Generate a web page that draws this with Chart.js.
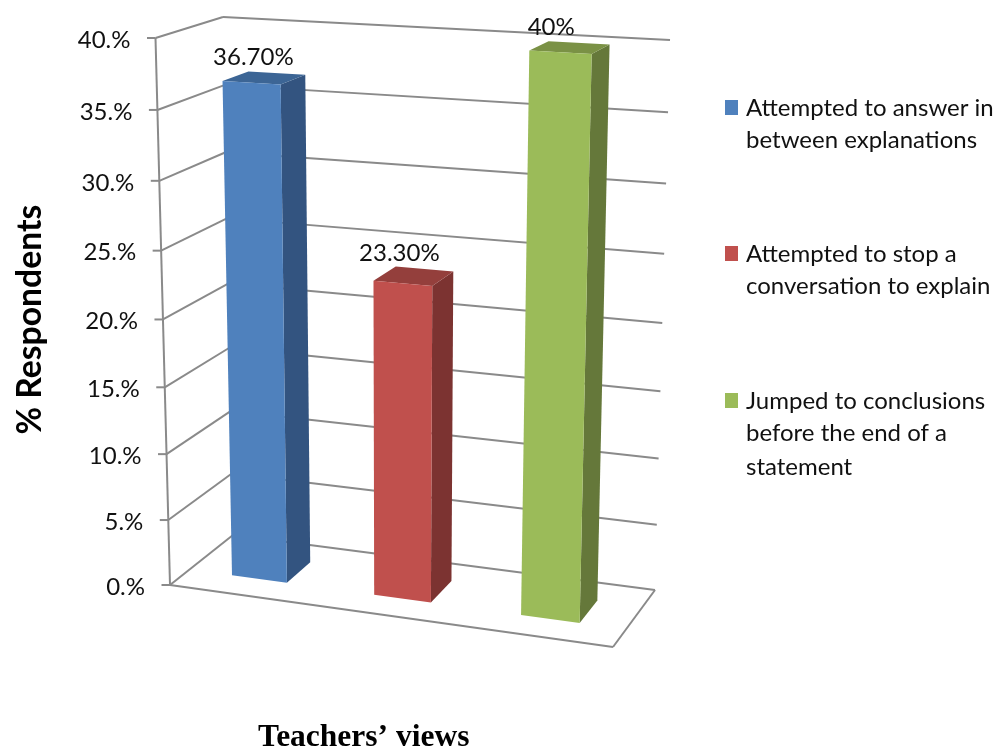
<!DOCTYPE html>
<html>
<head>
<meta charset="utf-8">
<style>html,body{margin:0;padding:0;background:#fff}canvas{display:block}</style>
<script src="https://cdn.jsdelivr.net/npm/chart.js@4/dist/chart.umd.js"></script>
</head>
<body>
<canvas id="c" width="1006" height="749"></canvas>
<script>
const categories = [
  ['Attempted to answer in', 'between explanations'],
  ['Attempted to stop a', 'conversation to explain'],
  ['Jumped to conclusions', 'before the end of a', 'statement']
];
const values = [36.7, 23.3, 40];
const valueLabels = ['36.70%', '23.30%', '40%'];
const barColors = ['#4F81BD', '#C0504D', '#9BBB59'];
const sideColors = ['#335480', '#7C3331', '#65783A'];
const topColors = ['#3C6595', '#943F3C', '#7A9145'];
const yAxisTitle = '% Respondents';
const xAxisTitle = 'Teachers\u2019 views';

// Legend layout: top of each swatch, and the centre line of each text row
const legendSwatchTop = [100, 246, 393];
const legendRows = [[108, 140], [254, 286], [401, 433, 467]];

// 3D box of the plot: front/back, left/right, bottom/top corners on the page
const box = {
  FLB: [170, 585], FRB: [613, 647], BLB: [233, 535], BRB: [655, 590],
  FLT: [155.5, 38], FRT: [628, 64], BLT: [223, 17], BRT: [670, 40]
};
const persp = (t, k) => t / (t + k * (1 - t));
const lerp = (a, b, t) => [a[0] + (b[0] - a[0]) * t, a[1] + (b[1] - a[1]) * t];
function project(u, v, z) {
  const U = persp(u, 1.05), V = persp(v, 1.06);
  const fb = lerp(box.FLB, box.FRB, U), ft = lerp(box.FLT, box.FRT, U);
  const bb = lerp(box.BLB, box.BRB, U), bt = lerp(box.BLT, box.BRT, U);
  return lerp(lerp(fb, ft, V), lerp(bb, bt, V), z);
}
const Z0 = 0.31, Z1 = 0.71;
const GRID = '#8A8A8A';
const TEXT = '#111';

function seg(ctx, a, b) {
  ctx.beginPath(); ctx.moveTo(a[0], a[1]); ctx.lineTo(b[0], b[1]); ctx.stroke();
}
function face(ctx, pts, color) {
  ctx.fillStyle = color;
  ctx.beginPath();
  pts.forEach((p, i) => i ? ctx.lineTo(p[0], p[1]) : ctx.moveTo(p[0], p[1]));
  ctx.closePath(); ctx.fill();
}

const box3d = {
  id: 'box3d',
  beforeDatasetsDraw(chart) {
    const { ctx, scales: { y } } = chart;
    const span = y.bottom - y.top;
    ctx.save();
    ctx.strokeStyle = GRID; ctx.lineWidth = 2;
    y.ticks.forEach(t => {
      const v = (y.bottom - y.getPixelForValue(t.value)) / span;
      const f = project(0, v, 0), bl = project(0, v, 1), br = project(1, v, 1);
      seg(ctx, f, bl); seg(ctx, bl, br);
      seg(ctx, [f[0] - 8.5, f[1]], f);
      ctx.fillStyle = TEXT;
      ctx.font = '24px Lato';
      ctx.textAlign = 'right'; ctx.textBaseline = 'middle';
      ctx.fillText(t.label, f[0] - 25, f[1] + 2);
    });
    seg(ctx, project(0, 0, 0), project(0, 1, 0));
    seg(ctx, project(0, 0, 0), project(1, 0, 0));
    seg(ctx, project(1, 0, 0), project(1, 0, 1));
    ctx.restore();
  },
  beforeDatasetDraw(chart, args) {
    const { ctx, chartArea: a, scales: { y } } = chart;
    const w = a.right - a.left, h = y.bottom - y.top;
    args.meta.data.forEach((bar, i) => {
      const u0 = (bar.x - bar.width / 2 - a.left) / w, u1 = (bar.x + bar.width / 2 - a.left) / w;
      const v = (bar.base - bar.y) / h;
      const P = project;
      face(ctx, [P(u1, 0, Z0), P(u1, 0, Z1), P(u1, v, Z1), P(u1, v, Z0)], sideColors[i]);
      face(ctx, [P(u0, v, Z0), P(u1, v, Z0), P(u1, v, Z1), P(u0, v, Z1)], topColors[i]);
      face(ctx, [P(u0, 0, Z0), P(u1, 0, Z0), P(u1, v, Z0), P(u0, v, Z0)], barColors[i]);
    });
    return false;
  },
  afterDatasetsDraw(chart) {
    const { ctx, chartArea: a, scales: { y } } = chart;
    const meta = chart.getDatasetMeta(0);
    const w = a.right - a.left, h = y.bottom - y.top;
    ctx.save();
    ctx.fillStyle = TEXT; ctx.font = '24px Lato';
    ctx.textAlign = 'center'; ctx.textBaseline = 'middle';
    meta.data.forEach((bar, i) => {
      const u = (bar.x - a.left) / w, v = (bar.base - bar.y) / h;
      const front = project(u * 0.965 + 0.01, v, Z0), back = project(u, v, Z1);
      ctx.fillText(valueLabels[i], front[0], back[1] - 16);
    });
    // legend
    categories.forEach((lines, i) => {
      ctx.fillStyle = barColors[i];
      ctx.fillRect(725, legendSwatchTop[i], 13, 15);
      ctx.fillStyle = TEXT;
      ctx.textAlign = 'left';
      lines.forEach((l, j) => ctx.fillText(l, 746, legendRows[i][j]));
    });
    ctx.restore();
  }
};

new Chart(document.getElementById('c'), {
  type: 'bar',
  data: {
    labels: categories,
    datasets: [{ data: values, backgroundColor: barColors, barPercentage: 0.39, categoryPercentage: 1 }]
  },
  options: {
    responsive: false,
    animation: false,
    layout: { padding: { left: 10, right: 337, top: 0, bottom: -8 } },
    plugins: { legend: { display: false }, tooltip: { enabled: false } },
    scales: {
      x: {
        grid: { display: false }, border: { display: false },
        ticks: { display: false },
        title: { display: true, text: xAxisTitle, color: '#000', padding: { top: 72, bottom: 0 },
                 font: { family: 'Liberation Serif', size: 31.5, weight: 'bold' } }
      },
      y: {
        min: 0, max: 40,
        grid: { display: false }, border: { display: false },
        ticks: { stepSize: 5, display: false, callback: v => v + '.%' },
        title: { display: true, text: yAxisTitle, color: '#000', padding: 0,
                 font: { family: 'Lato', size: 33.7, weight: 'bold' } }
      }
    }
  },
  plugins: [box3d]
});
</script>
</body>
</html>
